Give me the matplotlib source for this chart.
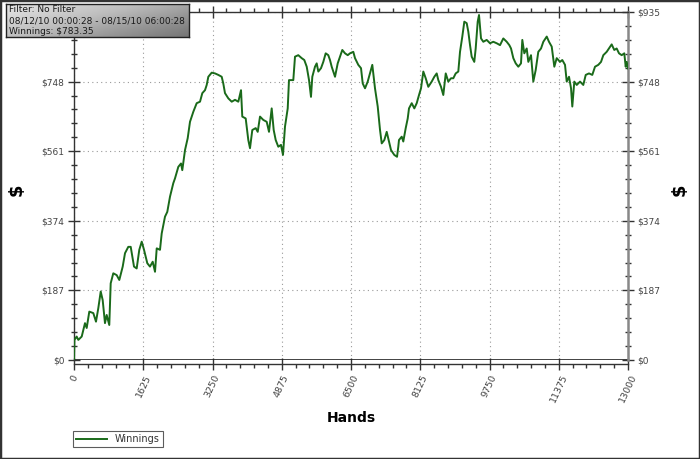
import numpy as np
import matplotlib
matplotlib.use('Agg')
import matplotlib.pyplot as plt
from matplotlib.ticker import MultipleLocator
from matplotlib.patches import Rectangle

# cumulative winnings (hands, dollars)
hands = [0, 10, 63, 101, 181, 258, 298, 359, 453, 516, 570, 627, 673, 727, 767, 828,
         861, 922, 1002, 1063, 1143, 1197, 1274, 1331, 1408, 1471, 1532, 1589, 1643, 1720,
         1783, 1847, 1901, 1941, 2018, 2058, 2135, 2189, 2253, 2330,
         2370, 2448, 2511, 2541, 2605, 2668, 2722, 2800, 2879, 2957, 3011, 3074, 3114, 3152,
         3231, 3309, 3386, 3466, 3503, 3543, 3621, 3701, 3778, 3856, 3919, 3949, 4029, 4090,
         4130, 4184, 4264, 4311, 4365, 4442, 4522, 4576, 4639, 4686, 4733, 4794, 4857, 4904,
         4951, 5015, 5045,
         5069, 5146, 5186, 5263, 5343, 5404, 5461, 5515, 5561, 5592, 5655, 5695, 5733, 5796,
         5850, 5906, 5967, 6007, 6047, 6125, 6188, 6242, 6296, 6359, 6423, 6477, 6554, 6594,
         6671, 6735, 6775, 6829, 6892, 6946, 7000, 7033, 7063, 7127, 7181, 7221, 7282, 7338,
         7392, 7439, 7516, 7580, 7610,
         7626, 7690, 7727, 7784, 7831, 7861, 7925, 7986, 8042, 8096, 8143, 8197, 8253, 8314,
         8394, 8455, 8511, 8549, 8612, 8666, 8723, 8783, 8847, 8901, 8957, 9018, 9058, 9112,
         9159, 9215, 9253, 9293, 9332, 9393, 9426, 9473, 9504, 9551, 9605, 9684, 9762, 9839,
         9919, 9997, 10074, 10154, 10215,
         10255, 10309, 10365, 10426, 10489, 10520, 10567, 10623, 10661, 10724, 10778, 10834,
         10895, 10959, 11013, 11093, 11146, 11210, 11271, 11327, 11404, 11458, 11522, 11562,
         11616, 11663, 11693, 11740, 11797, 11874, 11951, 12008, 12085, 12162, 12226, 12303,
         12367, 12421, 12500, 12554, 12617, 12678, 12734, 12789, 12852, 12913, 12946, 12970,
         13000]
winnings = [0, 54, 63, 54, 63, 99, 86, 130, 126, 103, 139, 184, 161, 99, 121, 94,
            206, 233, 228, 215, 251, 287, 304, 304, 251, 246, 296, 318, 296, 260,
            251, 264, 237, 300, 296, 340, 385, 398, 439, 475,
            488, 519, 528, 510, 564, 596, 640, 667, 690, 694, 717, 725, 739, 761,
            772, 770, 766, 761, 743, 717, 703, 694, 699, 694, 725, 654, 649, 591,
            569, 618, 623, 613, 654, 645, 640, 613, 676, 618, 591, 573, 578, 551,
            627, 676, 752,
            752, 752, 815, 819, 811, 806, 788, 752, 707, 761, 788, 797, 775, 784,
            801, 824, 819, 806, 788, 761, 797, 815, 833, 824, 819, 824, 828, 811,
            793, 784, 743, 730, 748, 770, 793, 761, 730, 681, 618, 582, 591, 613,
            587, 564, 551, 546, 573,
            591, 600, 587, 623, 649, 676, 690, 676, 690, 712, 730, 775, 757, 734,
            748, 761, 770, 752, 734, 712, 770, 748, 757, 757, 770, 775, 828, 869,
            909, 905, 882, 846, 815, 801, 837, 909, 927, 864, 855, 860, 851, 855,
            851, 846, 864, 855, 846,
            837, 811, 797, 788, 797, 860, 824, 837, 801, 819, 748, 779,
            828, 837, 855, 869, 855, 842, 788, 811, 801, 806, 793, 748,
            761, 730, 681, 748, 739, 748, 739, 766, 770, 766, 788, 793,
            801, 819, 828, 837, 848, 833, 837, 824, 819, 824, 788, 801,
            783.35]

x_ticks = [0, 1625, 3250, 4875, 6500, 8125, 9750, 11375, 13000]
y_ticks = [0, 187, 374, 561, 748, 935]
y_labels = ['$0', '$187', '$374', '$561', '$748', '$935']
info_lines = ['Filter: No Filter',
              '08/12/10 00:00:28 - 08/15/10 06:00:28',
              'Winnings: $783.35']

W, H = 700, 459
fig = plt.figure(figsize=(W / 100, H / 100), dpi=100)
ax = fig.add_axes([74 / W, 99 / H, 554 / W, 348 / H])

# spine offset first: set_position resets the tick settings
ax.spines['bottom'].set_position(('outward', 3))
for s in ['left', 'bottom', 'top']:
    ax.spines[s].set_color('#333333')
    ax.spines[s].set_linewidth(1.0)
ax.spines['right'].set_color('#888888')
ax.spines['right'].set_linewidth(1.8)

ax.plot(hands, winnings, color='#1a6a1a', lw=1.4, zorder=3, label='Winnings')
ax.axhline(0, color='#222222', lw=1.2, zorder=2)

ax.set_xlim(0, 13000)
ax.set_ylim(0, 935)
ax.set_xticks(x_ticks)
ax.set_xticklabels([str(t) for t in x_ticks], rotation=65, ha='center',
                   fontsize=6.8, color='#444444')
ax.set_yticks(y_ticks)
ax.set_yticklabels(y_labels, fontsize=6.5, color='#444444')
ax.xaxis.set_minor_locator(MultipleLocator(325))
ax.yaxis.set_minor_locator(MultipleLocator(37.4))

ax.grid(True, which='major', color='#9a9a9a', lw=0.8, linestyle=(0, (1, 3)))

ax.tick_params(axis='y', which='major', direction='inout', length=8, width=1,
               color='#333333', left=True, right=True, labelright=True, pad=3)
ax.tick_params(axis='y', which='minor', direction='inout', length=4.5, width=1,
               color='#333333', left=True, right=True)
ax.tick_params(axis='x', which='major', direction='inout', length=9, width=1,
               color='#333333', top=True, pad=2)
ax.tick_params(axis='x', which='minor', direction='out', length=3, width=1,
               color='#333333', top=True)

ax.set_xlabel('Hands', fontsize=10, fontweight='bold', labelpad=5)
fig.text(17 / W, 1 - 190 / H, '$', fontsize=13, fontweight='bold', rotation=90,
         ha='center', va='center')
fig.text(680 / W, 1 - 190 / H, '$', fontsize=13, fontweight='bold', rotation=90,
         ha='center', va='center')

leg = fig.legend(loc='lower left', bbox_to_anchor=(73 / W, 12 / H), fontsize=7,
                 frameon=True, fancybox=False, handlelength=3.2, borderpad=0.3,
                 handletextpad=0.8, borderaxespad=0)
leg.get_frame().set_edgecolor('#333333')
leg.get_frame().set_linewidth(0.8)
for t in leg.get_texts():
    t.set_color('#333333')

# info box with grey gradient
bx = fig.add_axes([6 / W, 1 - 37 / H, 183 / W, 33 / H])
gx, gy = np.meshgrid(np.linspace(0, 1, 100), np.linspace(0, 1, 30))
bx.imshow(gx * 0.6 + gy * 0.4, cmap='Greys', vmin=-0.45, vmax=1.9, aspect='auto',
          extent=[0, 1, 0, 1], origin='upper')
bx.set_xlim(0, 1)
bx.set_ylim(0, 1)
bx.set_xticks([])
bx.set_yticks([])
for s in bx.spines.values():
    s.set_color('#222222')
    s.set_linewidth(1)
for i, line in enumerate(info_lines):
    bx.text(0.015, 0.82 - i * 0.32, line, fontsize=6.5, color='#1a1a1a',
            ha='left', va='center')

fig.patches.append(Rectangle((0, 0), 1, 1, transform=fig.transFigure, fill=False,
                             edgecolor='#333333', lw=2.5))

fig.savefig('out.png', dpi=100)
